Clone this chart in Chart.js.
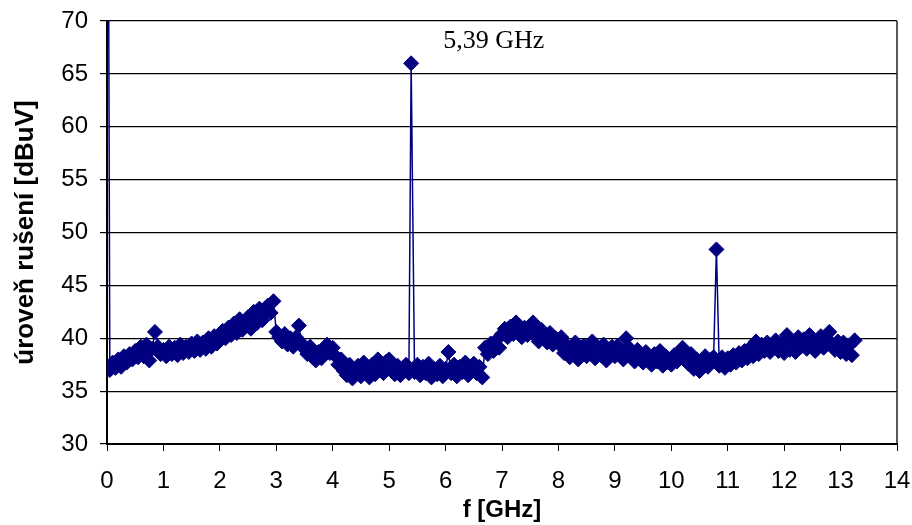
<!DOCTYPE html>
<html>
<head>
<meta charset="utf-8">
<title>úroveň rušení</title>
<script src="https://cdn.jsdelivr.net/npm/chart.js@4.4.1/dist/chart.umd.min.js"></script>
<style>
  body { margin: 0; background: #fff; }
  #wrap { width: 912px; height: 525px; }
</style>
</head>
<body>
<div id="wrap"><canvas id="myChart" width="912" height="525"></canvas></div>
<script>
// measured sweep, one row per GHz
var freqGHz = [
  0.03, 0.05, 0.10, 0.15, 0.20, 0.25, 0.30, 0.35, 0.40, 0.45, 0.50, 0.55, 0.60, 0.65, 0.70, 0.75, 0.80, 0.85, 0.90, 0.95,
  1.00, 1.05, 1.10, 1.15, 1.20, 1.25, 1.30, 1.35, 1.40, 1.45, 1.50, 1.55, 1.60, 1.65, 1.70, 1.75, 1.80, 1.85, 1.90, 1.95,
  2.00, 2.05, 2.10, 2.15, 2.20, 2.25, 2.30, 2.35, 2.40, 2.45, 2.50, 2.55, 2.60, 2.65, 2.70, 2.75, 2.80, 2.85, 2.90, 2.95,
  3.00, 3.05, 3.10, 3.15, 3.20, 3.25, 3.30, 3.35, 3.40, 3.45, 3.50, 3.55, 3.60, 3.65, 3.70, 3.75, 3.80, 3.85, 3.90, 3.95,
  4.00, 4.05, 4.10, 4.15, 4.20, 4.25, 4.30, 4.35, 4.40, 4.45, 4.50, 4.55, 4.60, 4.65, 4.70, 4.75, 4.80, 4.85, 4.90, 4.95,
  5.00, 5.05, 5.10, 5.15, 5.20, 5.25, 5.30, 5.35, 5.39, 5.45, 5.50, 5.55, 5.60, 5.65, 5.70, 5.75, 5.80, 5.85, 5.90, 5.95,
  6.00, 6.05, 6.10, 6.15, 6.20, 6.25, 6.30, 6.35, 6.40, 6.45, 6.50, 6.55, 6.60, 6.65, 6.70, 6.75, 6.80, 6.85, 6.90, 6.95,
  7.00, 7.05, 7.10, 7.15, 7.20, 7.25, 7.30, 7.35, 7.40, 7.45, 7.50, 7.55, 7.60, 7.65, 7.70, 7.75, 7.80, 7.85, 7.90, 7.95,
  8.00, 8.05, 8.10, 8.15, 8.20, 8.25, 8.30, 8.35, 8.40, 8.45, 8.50, 8.55, 8.60, 8.65, 8.70, 8.75, 8.80, 8.85, 8.90, 8.95,
  9.00, 9.05, 9.10, 9.15, 9.20, 9.25, 9.30, 9.35, 9.40, 9.45, 9.50, 9.55, 9.60, 9.65, 9.70, 9.75, 9.80, 9.85, 9.90, 9.95,
  10.00, 10.05, 10.10, 10.15, 10.20, 10.25, 10.30, 10.35, 10.40, 10.45, 10.50, 10.55, 10.60, 10.65, 10.70, 10.75, 10.80, 10.85, 10.90, 10.95,
  11.00, 11.05, 11.10, 11.15, 11.20, 11.25, 11.30, 11.35, 11.40, 11.45, 11.50, 11.55, 11.60, 11.65, 11.70, 11.75, 11.80, 11.85, 11.90, 11.95,
  12.00, 12.05, 12.10, 12.15, 12.20, 12.25, 12.30, 12.35, 12.40, 12.45, 12.50, 12.55, 12.60, 12.65, 12.70, 12.75, 12.80, 12.85, 12.90, 12.95,
  13.00, 13.05, 13.10, 13.15, 13.20, 13.25
];

var levelDbuv = [
  72.0, 37.0, 37.7, 37.2, 38.0, 37.3, 38.3, 37.7, 38.5, 38.0, 38.8, 38.2, 39.2, 38.3, 39.4, 37.9, 39.0, 40.6, 39.2, 38.5,
  38.9, 38.3, 39.2, 38.5, 39.1, 38.4, 39.4, 38.6, 39.2, 38.7, 39.5, 38.8, 39.7, 38.9, 39.6, 39.0, 40.0, 39.2, 40.2, 39.5,
  39.8, 40.7, 40.0, 41.0, 40.3, 41.4, 40.5, 41.8, 40.8, 41.5, 42.0, 40.9, 42.5, 41.4, 42.8, 41.7, 42.4, 43.1, 42.4, 43.5,
  40.6, 40.1, 39.7, 40.4, 39.4, 40.0, 39.2, 40.1, 41.2, 39.5, 39.0, 38.5, 39.2, 38.2, 37.9, 38.7, 38.1, 39.0, 39.4, 38.6,
  39.1, 38.3, 37.5, 38.0, 36.9, 36.5, 37.5, 36.2, 36.9, 37.4, 36.4, 37.7, 36.8, 36.3, 37.5, 36.6, 38.0, 37.0, 36.7, 37.8,
  38.0, 36.9, 36.6, 37.4, 36.5, 37.2, 37.5, 36.7, 66.0, 36.8, 37.5, 36.5, 37.3, 36.7, 37.6, 36.3, 37.1, 36.6, 37.4, 36.4,
  37.1, 38.7, 36.7, 37.5, 36.4, 37.3, 36.8, 37.7, 36.5, 37.2, 37.6, 36.7, 37.3, 36.3, 39.1, 38.5, 39.5, 38.8, 39.8, 39.1,
  40.4, 40.9, 40.1, 41.1, 40.4, 41.5, 40.5, 40.1, 41.0, 40.3, 41.1, 41.5, 40.2, 39.7, 40.8, 40.0, 39.6, 40.5, 39.4, 40.0,
  39.5, 40.1, 38.6, 39.3, 38.2, 38.9, 39.6, 38.0, 38.7, 39.3, 38.3, 39.0, 39.7, 38.1, 39.1, 38.4, 39.4, 37.9, 38.8, 39.2,
  38.3, 39.3, 38.6, 38.0, 40.0, 39.1, 38.4, 37.8, 38.9, 38.2, 37.7, 38.7, 38.0, 37.5, 38.5, 37.8, 38.8, 37.4, 38.3, 37.7,
  37.5, 38.4, 37.8, 38.6, 39.1, 38.1, 37.6, 38.5, 37.1, 38.0, 36.9, 37.7, 38.3, 37.3, 38.0, 38.2, 48.4, 37.4, 38.2, 37.2,
  38.1, 37.5, 38.4, 37.7, 38.6, 37.9, 38.8, 38.1, 39.1, 38.3, 39.7, 38.5, 39.4, 38.8, 39.6, 38.7, 39.3, 39.8, 38.8, 39.5,
  38.6, 40.3, 38.9, 39.7, 38.7, 40.1, 39.2, 39.9, 39.0, 40.3, 39.4, 38.8, 39.8, 40.2, 39.1, 40.0, 40.6, 39.3, 38.9, 39.7,
  38.7, 39.6, 38.5, 39.3, 38.4, 39.8
];

var peakFreq = 5.39;
var peakLabel = '5,39 GHz';

var points = [];
for (var i = 0; i < freqGHz.length; i++) {
  points.push({ x: freqGHz[i], y: levelDbuv[i] });
}

// right frame line + text next to the 5.39 GHz peak
var frameAndLabel = {
  id: 'frameAndLabel',
  beforeDatasetsDraw: function(chart) {
    var ctx = chart.ctx, a = chart.chartArea;
    ctx.save();
    ctx.strokeStyle = '#222';
    ctx.lineWidth = 1.5;
    ctx.beginPath();
    ctx.moveTo(a.right, a.top);
    ctx.lineTo(a.right, a.bottom);
    ctx.stroke();
    ctx.restore();
  },
  afterDatasetsDraw: function(chart) {
    var ctx = chart.ctx;
    var idx = freqGHz.indexOf(peakFreq);
    var px = chart.scales.x.getPixelForValue(peakFreq);
    var py = chart.scales.y.getPixelForValue(levelDbuv[idx]);
    ctx.save();
    ctx.fillStyle = '#000';
    ctx.font = '26px "Liberation Serif", "Times New Roman", serif';
    ctx.textBaseline = 'alphabetic';
    ctx.fillText(peakLabel, px + 32, py - 15);
    ctx.restore();
  }
};

var ctx = document.getElementById('myChart').getContext('2d');

var myChart = new Chart(ctx, {
  type: 'line',
  data: {
    datasets: [{
      data: points,
      borderColor: '#000080',
      backgroundColor: '#000080',
      borderWidth: 1.5,
      pointStyle: 'rectRot',
      pointRadius: 7.5,
      pointBorderWidth: 1,
      pointBackgroundColor: '#000080',
      pointBorderColor: '#000080',
      tension: 0
    }]
  },
  options: {
    responsive: false,
    animation: false,
    layout: { padding: { left: 0, right: 15, top: 21, bottom: 0 } },
    plugins: {
      legend: { display: false },
      tooltip: { enabled: false }
    },
    scales: {
      x: {
        type: 'linear',
        min: 0,
        max: 14,
        afterFit: function(scale) {
          scale.height = 81;
          scale.paddingLeft = 0;
          scale.paddingRight = 0;
        },
        ticks: {
          stepSize: 1,
          color: '#000',
          padding: 16,
          maxRotation: 0,
          font: { family: '"Liberation Sans", Arial, sans-serif', size: 24 }
        },
        grid: { drawOnChartArea: false, drawTicks: true, tickLength: 7, tickColor: '#000' },
        border: { color: '#000', width: 2 },
        title: {
          display: true,
          text: 'f [GHz]',
          color: '#000',
          padding: { top: 0, bottom: 0 },
          font: { family: '"Liberation Sans", Arial, sans-serif', size: 24, weight: 'bold' }
        }
      },
      y: {
        min: 30,
        max: 70,
        afterFit: function(scale) {
          scale.width = 107;
          scale.paddingTop = 0;
          scale.paddingBottom = 0;
        },
        ticks: {
          stepSize: 5,
          color: '#000',
          padding: 12,
          font: { family: '"Liberation Sans", Arial, sans-serif', size: 24 }
        },
        grid: { color: '#000', lineWidth: 1.2, tickLength: 7, tickColor: '#000' },
        border: { color: '#000', width: 2 },
        title: {
          display: true,
          text: 'úroveň rušení [dBuV]',
          color: '#000',
          padding: { top: 10, bottom: 0 },
          font: { family: '"Liberation Sans", Arial, sans-serif', size: 26, weight: 'bold' }
        }
      }
    }
  },
  plugins: [frameAndLabel]
});
</script>
</body>
</html>
